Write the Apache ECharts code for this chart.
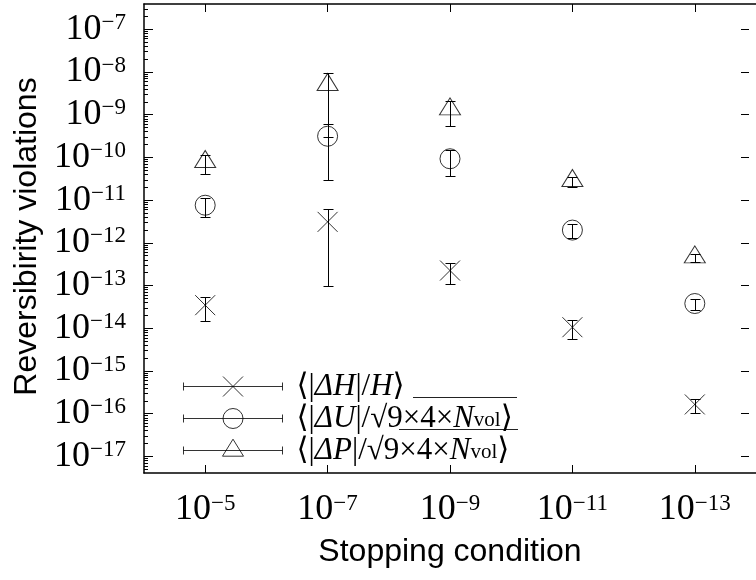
<!DOCTYPE html>
<html><head><meta charset="utf-8">
<script src="https://cdn.jsdelivr.net/npm/echarts@6/dist/echarts.min.js"></script>
<style>html,body{margin:0;padding:0;background:#fff}#c{width:756px;height:580px}</style>
</head><body><div id="c"></div>
<script>
// ---- data ----
const categories = ['1e-5', '1e-7', '1e-9', '1e-11', '1e-13'];
const xTickExponents = [-5, -7, -9, -11, -13];
const yTickExponents = [-17, -16, -15, -14, -13, -12, -11, -10, -9, -8, -7];
const yMin = 4.1e-18;
const yMax = 3.9e-7;
// <|dH|/H>
const hValues = [3.48e-14, 3.10e-12, 2.25e-13, 1.06e-14, 1.65e-16];
const hErrors = [2.03e-14, 3.00e-12, 1.17e-13, 5.0e-15, 6.2e-17];
// <|dU|/sqrt(9x4xNvol)>
const uValues = [7.6e-12, 3.13e-10, 9.3e-11, 1.99e-12, 3.8e-14];
const uErrors = [3.6e-12, 2.83e-10, 5.6e-11, 7.0e-13, 1.17e-14];
// <|dP|/sqrt(9x4xNvol)>
const pValues = [7.8e-11, 4.95e-9, 1.33e-9, 2.8e-11, 4.56e-13];
const pErrors = [3.6e-11, 4.65e-9, 7.8e-10, 7.5e-12, 9.1e-14];

const lg = Math.log10;
const yLo = lg(yMin), yHi = lg(yMax);
const minorTicks = [];
for (let d = -18; d <= -7; d++) {
  for (let k = 2; k <= 9; k++) {
    const t = d + lg(k);
    if (t > yLo && t < yHi) minorTicks.push(t);
  }
}

const serif = "'Liberation Serif', 'DejaVu Serif', serif";
const sans = "'Liberation Sans', Arial, sans-serif";
const expRich = {
  b: { fontFamily: serif, fontSize: 36, lineHeight: 36, color: '#000' },
  s: { fontFamily: serif, fontSize: 23, lineHeight: 23, verticalAlign: 'top', color: '#000' }
};
const expLabel = e => '{b|10}{s|\u2212' + Math.abs(e) + '}';

function errBars(values, errors) {
  return values.map((v, i) => [i, lg(v - errors[i]), lg(v + errors[i])]);
}
function points(values) {
  return values.map((v, i) => [i, lg(v)]);
}
function renderErr(params, api) {
  const x = api.value(0);
  const p1 = api.coord([x, api.value(1)]);
  const p2 = api.coord([x, api.value(2)]);
  const cx = Math.round(p1[0]) + 0.5;
  const y1 = Math.round(p1[1]) + 0.5, y2 = Math.round(p2[1]) + 0.5;
  const w = 5;
  const st = { stroke: '#000', lineWidth: 1 };
  return { type: 'group', children: [
    { type: 'line', shape: { x1: cx, y1: y1, x2: cx, y2: y2 }, style: st },
    { type: 'line', shape: { x1: cx - w, y1: y1, x2: cx + w, y2: y1 }, style: st },
    { type: 'line', shape: { x1: cx - w, y1: y2, x2: cx + w, y2: y2 }, style: st }
  ]};
}

const pointStyle = { color: 'transparent', borderColor: '#000', borderWidth: 1 };
const crossPath = 'path://M0 0L20 20M20 0L0 20';

const legendBase = 'M0 0M99 24M0 12L99 12M0 8L0 16M99 8L99 16';
const legendIcons = {
  H: 'path://' + legendBase + 'M39.5 2L59.5 22M59.5 2L39.5 22',
  U: 'path://' + legendBase + 'M59.5 12A10 10 0 1 1 39.5 12A10 10 0 1 1 59.5 12',
  P: 'path://' + legendBase + 'M49.5 0.7L60 17.7L39 17.7Z'
};
const legendText = {
  H: '{r|\u27E8|}{i|\u0394H}{r||/}{i|H}{r|\u27E9}',
  U: '{r|\u27E8|}{i|\u0394U}{r||/\u221A9\u00D74\u00D7}{i|N}{sub|vol}{r|\u27E9}',
  P: '{r|\u27E8|}{i|\u0394P}{r||/\u221A9\u00D74\u00D7}{i|N}{sub|vol}{r|\u27E9}'
};

const chart = echarts.init(document.getElementById('c'), null, { renderer: 'canvas' });
chart.setOption({
  animation: false,
  backgroundColor: '#fff',
  grid: { left: 144, top: 4, width: 620, bottom: 107, containLabel: false },
  xAxis: [
    {
      type: 'category', data: categories, position: 'bottom', boundaryGap: true,
      name: 'Stopping condition', nameLocation: 'middle', nameGap: 63,
      nameTextStyle: { fontFamily: sans, fontSize: 32, color: '#000' },
      axisLine: { show: true, lineStyle: { color: '#000', width: 1.5 } },
      axisTick: { show: true, inside: true, alignWithLabel: true, length: 8, lineStyle: { color: '#000', width: 1 } },
      axisLabel: { margin: 19, formatter: (v, i) => expLabel(xTickExponents[i]), rich: expRich },
      splitLine: { show: false }
    },
    {
      type: 'category', data: categories, position: 'top', boundaryGap: true,
      axisLine: { show: true, lineStyle: { color: '#000', width: 1.5 } },
      axisTick: { show: true, inside: true, alignWithLabel: true, length: 8, lineStyle: { color: '#000', width: 1 } },
      axisLabel: { show: false }, splitLine: { show: false }
    }
  ],
  yAxis: [
    {
      type: 'value', position: 'left', min: yLo, max: yHi,
      name: 'Reversibirity violations', nameLocation: 'middle', nameGap: 100,
      nameTextStyle: { fontFamily: sans, fontSize: 32, color: '#000', padding: [0, 0, 0, 4] },
      axisLine: { show: true, lineStyle: { color: '#000', width: 1.5 } },
      axisTick: { show: true, inside: true, length: 9, customValues: yTickExponents, lineStyle: { color: '#000', width: 1 } },
      axisLabel: { margin: 18, customValues: yTickExponents, formatter: v => expLabel(Math.round(v)), rich: expRich },
      splitLine: { show: false }
    },
    {
      type: 'value', position: 'left', min: yLo, max: yHi,
      axisLine: { show: false },
      axisTick: { show: true, inside: true, length: 4, customValues: minorTicks, lineStyle: { color: '#000', width: 1 } },
      axisLabel: { show: false }, splitLine: { show: false }
    },
    {
      type: 'value', position: 'right', offset: -7, min: yLo, max: yHi,
      axisLine: { show: false },
      axisTick: { show: true, inside: true, length: 8, customValues: yTickExponents, lineStyle: { color: '#000', width: 1 } },
      axisLabel: { show: false }, splitLine: { show: false }
    }
  ],
  legend: {
    orient: 'vertical', left: 183, top: 371, padding: 0,
    itemWidth: 99, itemHeight: 24, itemGap: 1,
    selectedMode: false, symbolKeepAspect: true,
    itemStyle: { color: 'transparent', borderColor: '#000', borderWidth: 1 },
    data: [
      { name: 'H', icon: legendIcons.H },
      { name: 'U', icon: legendIcons.U },
      { name: 'P', icon: legendIcons.P }
    ],
    formatter: name => legendText[name],
    textStyle: {
      padding: [0, 0, 0, 9],
      fontFamily: serif, fontSize: 31, lineHeight: 24, color: '#000',
      rich: {
        r: { fontFamily: serif, fontSize: 31, lineHeight: 24, color: '#000' },
        i: { fontFamily: serif, fontSize: 31, lineHeight: 24, fontStyle: 'italic', color: '#000' },
        sub: { fontFamily: serif, fontSize: 21, lineHeight: 16, verticalAlign: 'bottom', color: '#000' }
      }
    }
  },
  graphic: [
    { type: 'line', shape: { x1: 413, y1: 397.5, x2: 517, y2: 397.5 }, style: { stroke: '#222', lineWidth: 1 } },
    { type: 'line', shape: { x1: 399, y1: 429.5, x2: 518, y2: 429.5 }, style: { stroke: '#222', lineWidth: 1 } }
  ],
  series: [
    { type: 'custom', name: 'errH', renderItem: renderErr, encode: { x: 0, y: [1, 2] }, data: errBars(hValues, hErrors), silent: true, z: 1 },
    { type: 'custom', name: 'errU', renderItem: renderErr, encode: { x: 0, y: [1, 2] }, data: errBars(uValues, uErrors), silent: true, z: 1 },
    { type: 'custom', name: 'errP', renderItem: renderErr, encode: { x: 0, y: [1, 2] }, data: errBars(pValues, pErrors), silent: true, z: 1 },
    { type: 'scatter', name: 'H', data: points(hValues), symbol: crossPath, symbolSize: 20, itemStyle: pointStyle, silent: true, z: 2 },
    { type: 'scatter', name: 'U', data: points(uValues), symbol: 'circle', symbolSize: 20, itemStyle: pointStyle, silent: true, z: 2 },
    { type: 'scatter', name: 'P', data: points(pValues), symbol: 'triangle', symbolSize: [21, 17], symbolOffset: [0, -3], itemStyle: pointStyle, silent: true, z: 2 }
  ]
});
</script></body></html>
